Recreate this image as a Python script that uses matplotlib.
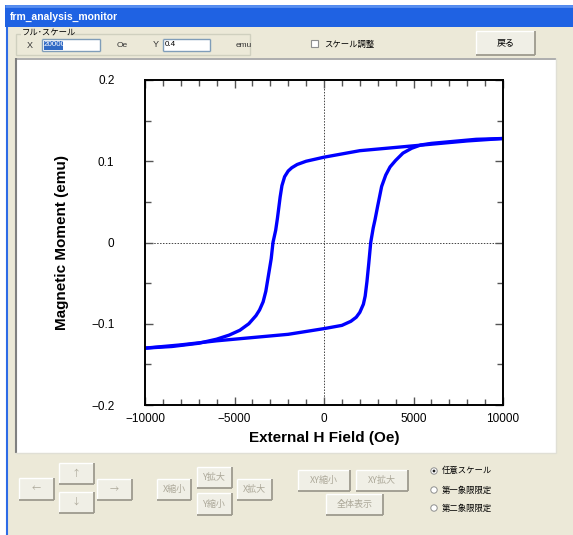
import matplotlib.pyplot as plt
from matplotlib.patches import Rectangle, Circle
from matplotlib.ticker import MultipleLocator

# 磁化曲线数据（上支：磁场从 +10000 减小到 -10000）
h_down = [10000, 8000, 6000, 4000, 2000, 0, -1000, -1500, -1800, -2000, -2200,
          -2350, -2450, -2600, -2700, -2850, -2950, -3100, -3250, -3400, -3600,
          -3800, -4200, -4700, -5300, -6000, -7000, -8500, -10000]
m_down = [0.128, 0.125, 0.121, 0.117, 0.113, 0.105, 0.100, 0.096, 0.092, 0.088, 0.081,
          0.070, 0.056, 0.030, 0.015, 0.000, -0.020, -0.040, -0.060, -0.073, -0.083,
          -0.090, -0.100, -0.108, -0.114, -0.119, -0.124, -0.128, -0.130]
# 下支：磁场从 -10000 增大到 +10000
h_up = [-10000, -8000, -6000, -4000, -2000, 0, 1000, 1500, 1800, 2000, 2200,
        2300, 2400, 2500, 2610, 2750, 2850, 3000, 3220, 3450, 3690, 4000,
        4410, 4900, 5400, 6000, 7000, 8500, 10000]
m_up = [-0.130, -0.126, -0.121, -0.117, -0.113, -0.106, -0.102, -0.097, -0.092, -0.086, -0.076,
        -0.066, -0.048, -0.026, 0.000, 0.018, 0.028, 0.045, 0.069, 0.083, 0.093, 0.101,
        0.110, 0.116, 0.120, 0.122, 0.124, 0.127, 0.128]

xticks = [-10000, -5000, 0, 5000, 10000]
yticks = [-0.2, -0.1, 0, 0.1, 0.2]

jp = ['Noto Sans CJK JP', 'DejaVu Sans']
BEIGE = '#ECE9D8'

fig = plt.figure(figsize=(5.73, 5.35), dpi=100)
fig.patch.set_facecolor('white')

# 背景层：用像素坐标画窗口界面
bg = fig.add_axes([0, 0, 1, 1])
bg.set_xlim(0, 573)
bg.set_ylim(535, 0)
bg.axis('off')


def rect(x0, y0, x1, y1, **kw):
    bg.add_patch(Rectangle((x0, y0), x1 - x0, y1 - y0, **kw))


def hline(x0, x1, y, c, lw=1):
    bg.plot([x0, x1], [y, y], color=c, lw=lw, solid_capstyle='butt')


def vline(x, y0, y1, c, lw=1):
    bg.plot([x, x], [y0, y1], color=c, lw=lw, solid_capstyle='butt')


def button(x0, y0, x1, y1, label, enabled=False, size=6.5):
    rect(x0, y0, x1, y1, facecolor='#F0EFE6', edgecolor='none')
    hline(x0, x1, y0, 'white')
    vline(x0, y0, y1, 'white')
    hline(x0, x1, y1, '#9D9A8E', 1.3)
    vline(x1, y0, y1, '#9D9A8E', 1.3)
    col = 'black' if enabled else '#ACA899'
    bg.text((x0 + x1) / 2, (y0 + y1) / 2, label, ha='center', va='center',
            fontsize=size, color=col, family=jp)


def textbox(x0, y0, x1, y1):
    rect(x0, y0, x1, y1, facecolor='white', edgecolor='none')
    hline(x0, x1, y0, '#7F9DB9')
    vline(x0, y0, y1, '#7F9DB9')
    hline(x0, x1, y1, '#7F9DB9')
    vline(x1, y0, y1, '#7F9DB9')


# 窗口主体
rect(6, 27, 573, 535, facecolor=BEIGE, edgecolor='none')
vline(6.5, 27, 535, '#2D6BE6', 1.5)
# 标题栏
rect(5, 5, 573, 27, facecolor='#1F62E3', edgecolor='none')
hline(5, 573, 6, '#5A8FF0', 2)
bg.text(10, 17, 'frm_analysis_monitor', ha='left', va='center', fontsize=7.5,
        color='white', fontweight='bold', family='Liberation Sans')

# 满刻度 分组框
bg.add_patch(Rectangle((16, 34), 234, 21, facecolor='none', edgecolor='#D0D0BF', lw=1))
rect(21, 29, 67, 38, facecolor=BEIGE, edgecolor='none')
bg.text(22, 33.5, 'フル･スケール', ha='left', va='center', fontsize=6, family=jp)
bg.text(27, 45, 'X', ha='left', va='center', fontsize=6.5, color='#333333', family='Liberation Sans')
textbox(42, 39, 100, 51)
rect(44, 40.5, 63, 49.5, facecolor='#316AC5', edgecolor='none')
bg.text(44, 45, '20000', ha='left', va='center', fontsize=5.8, color='white', family='Liberation Sans')
bg.text(117, 45.5, 'Oe', ha='left', va='center', fontsize=6, color='#333333', family='Liberation Sans')
bg.text(153, 44.5, 'Y', ha='left', va='center', fontsize=6.5, color='#333333', family='Liberation Sans')
textbox(163, 39, 210, 51)
bg.text(165, 45, '0.4', ha='left', va='center', fontsize=5.8, color='black', family='Liberation Sans')
bg.text(236, 45.5, 'emu', ha='left', va='center', fontsize=6, color='#333333', family='Liberation Sans')

# 复选框
rect(311, 40, 318, 47, facecolor='white', edgecolor='#8E8F8F', lw=0.8)
bg.text(324, 44, 'スケール調整', ha='left', va='center', fontsize=6, family=jp)
button(476, 31, 535, 55, '戻る', enabled=True, size=6.5)

# 绘图面板
rect(15, 58, 556, 453, facecolor='white', edgecolor='none')
hline(15, 556, 58.5, '#A0A0A0', 1.2)
vline(15.5, 58, 453, '#808080', 1.5)
hline(15, 556, 453, '#E0DFD5', 1)
vline(556, 58, 453, '#E0DFD5', 1)

# 下方按钮
button(19, 478, 54, 500, '←')
button(59, 463, 94, 484, '↑')
button(59, 492, 94, 513, '↓')
button(97, 479, 132, 500, '→')
button(157, 479, 191, 500, 'X縮小')
button(197, 467, 232, 488, 'Y拡大')
button(197, 493, 232, 515, 'Y縮小')
button(237, 479, 272, 500, 'X拡大')
button(298, 470, 350, 491, 'XY縮小')
button(356, 470, 408, 491, 'XY拡大')
button(326, 494, 383, 515, '全体表示')

# 单选按钮
radio = ['任意スケール', '第一象限限定', '第二象限限定']
radio_y = [471, 490, 508]
for i, (lab, yy) in enumerate(zip(radio, radio_y)):
    bg.add_patch(Circle((434, yy), 3.2, facecolor='white', edgecolor='#8E8F8F', lw=0.7))
    if i == 0:
        bg.add_patch(Circle((434, yy), 1.4, facecolor='#222222', edgecolor='none'))
    bg.text(442, yy, lab, ha='left', va='center', fontsize=6, family=jp)

# 图表坐标轴
ax = fig.add_axes([145 / 573, 1 - 405 / 535, 358 / 573, 325 / 535])
ax.set_facecolor('white')
ax.plot(h_down, m_down, color='#0000FF', lw=2.4, solid_joinstyle='round')
ax.plot(h_up, m_up, color='#0000FF', lw=2.4, solid_joinstyle='round')
ax.axhline(0, color='#444444', lw=0.7, ls=(0, (1.5, 1.5)), zorder=0)
ax.axvline(0, color='#444444', lw=0.7, ls=(0, (1.5, 1.5)), zorder=0)

ax.set_xlim(-10000, 10000)
ax.set_ylim(-0.2, 0.2)
ax.set_xticks(xticks)
ax.set_yticks(yticks)
ax.set_yticklabels(['\u22120.2', '\u22120.1', '0', '0.1', '0.2'])
ax.set_xticklabels(['\u221210000', '\u22125000', '0', '5000', '10000'])
ax.xaxis.set_minor_locator(MultipleLocator(1000))
ax.yaxis.set_minor_locator(MultipleLocator(0.05))
ax.tick_params(which='both', direction='in', top=True, right=True, color='#555555')
ax.tick_params(which='major', length=6, width=1)
ax.tick_params(which='minor', length=4, width=1)
ax.tick_params(axis='y', which='major', pad=22, labelsize=8.5)
ax.tick_params(axis='x', which='major', pad=6, labelsize=8.5)
for lab in ax.get_xticklabels() + ax.get_yticklabels():
    lab.set_family('Liberation Sans')
for s in ax.spines.values():
    s.set_linewidth(1.4)

ax.set_xlabel('External H Field (Oe)', fontsize=11, fontweight='bold',
              family='Liberation Sans', labelpad=4)
ax.set_ylabel('Magnetic Moment (emu)', fontsize=11, fontweight='bold',
              family='Liberation Sans', labelpad=16)

fig.savefig('out.png', dpi=100)
